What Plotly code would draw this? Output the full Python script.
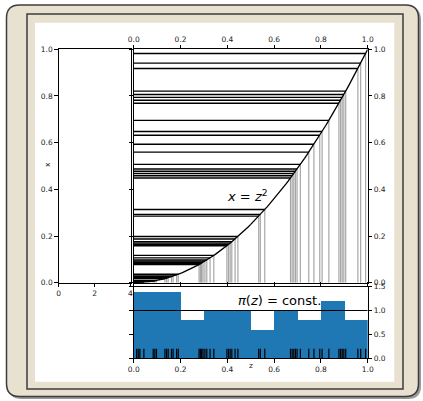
import plotly.graph_objects as go

# ---------------- data ----------------
z_samples = [0.012, 0.019, 0.026, 0.043, 0.083, 0.090, 0.097,
             0.133, 0.140, 0.147, 0.161, 0.168, 0.183, 0.190,
             0.279, 0.285, 0.290, 0.296,
             0.304, 0.312, 0.326, 0.342, 0.398,
             0.405, 0.412, 0.419, 0.433, 0.445,
             0.534, 0.541, 0.560,
             0.670, 0.677, 0.684, 0.691, 0.698,
             0.712, 0.748, 0.770, 0.795,
             0.805, 0.834, 0.877, 0.884, 0.891, 0.898,
             0.906, 0.958, 0.970, 0.991]
curve_z = [i / 100 for i in range(101)]
main_ticks = [0.0, 0.2, 0.4, 0.6, 0.8, 1.0]
left_x_ticks = [0, 2, 4]
hist_ticks = [0.0, 0.5, 1.0, 1.5]
bin_width = 0.1
rug_height = 0.2

W, H = 423, 401
def px(v): return v / W
def py(v): return 1 - v / H

FONT = "DejaVu Sans"
BEIGE = "#e9e1d0"
BORDER = "#3c3c3c"

fig = go.Figure()

# left panel placeholder (empty)
fig.add_trace(go.Scatter(x=[None], y=[None], xaxis="x", yaxis="y", mode="lines",
                         hoverinfo="skip"))

# vertical grey lines (z_i, 0) -> (z_i, z_i^2)
vx, vy = [], []
for z in z_samples:
    vx += [z, z, None]
    vy += [0, z * z, None]
fig.add_trace(go.Scatter(x=vx, y=vy, xaxis="x2", yaxis="y2", mode="lines",
                         line=dict(color="rgba(0,0,0,0.35)", width=1.2), hoverinfo="skip"))

# horizontal black lines (0, x_i) -> (z_i, x_i)
hx, hy = [], []
for z in z_samples:
    hx += [0, z, None]
    hy += [z * z, z * z, None]
fig.add_trace(go.Scatter(x=hx, y=hy, xaxis="x2", yaxis="y2", mode="lines",
                         line=dict(color="black", width=1.4), hoverinfo="skip"))

# curve x = z^2
fig.add_trace(go.Scatter(x=curve_z, y=[z * z for z in curve_z], xaxis="x2", yaxis="y2",
                         mode="lines", line=dict(color="black", width=1.3), hoverinfo="skip"))

# histogram
fig.add_trace(go.Histogram(x=z_samples, xaxis="x3", yaxis="y3", histnorm="probability density",
                           xbins=dict(start=0, end=1.0, size=bin_width),
                           marker=dict(color="#1f77b4", line=dict(width=0)),
                           hoverinfo="skip"))

# const line
fig.add_trace(go.Scatter(x=[0, 1], y=[1, 1], xaxis="x3", yaxis="y3", mode="lines",
                         line=dict(color="black", width=1.1), hoverinfo="skip"))

# rug
rx, ry = [], []
for z in z_samples:
    rx += [z, z, None]
    ry += [0, rug_height, None]
fig.add_trace(go.Scatter(x=rx, y=ry, xaxis="x3", yaxis="y3", mode="lines",
                         line=dict(color="black", width=1.2), hoverinfo="skip"))

# ---------- frame shapes ----------
def rrect(x0, y0, x1, y1, r):
    pts = [("M", [(x0 + r, y0)]), ("L", [(x1 - r, y0)]), ("Q", [(x1, y0), (x1, y0 + r)]),
           ("L", [(x1, y1 - r)]), ("Q", [(x1, y1), (x1 - r, y1)]),
           ("L", [(x0 + r, y1)]), ("Q", [(x0, y1), (x0, y1 - r)]),
           ("L", [(x0, y0 + r)]), ("Q", [(x0, y0), (x0 + r, y0)])]
    s = ""
    for cmd, ps in pts:
        s += cmd + " " + " ".join(f"{px(a):.5f},{py(b):.5f}" for a, b in ps) + " "
    return s + "Z"

shapes = [
    dict(type="path", xref="paper", yref="paper", path=rrect(8.5, 7, 421, 399, 13),
         fillcolor="#9a9a9a", line=dict(width=0), layer="below"),
    dict(type="path", xref="paper", yref="paper", path=rrect(6.5, 5, 418.5, 396.5, 13),
         fillcolor=BEIGE, line=dict(color=BORDER, width=1.5), layer="below"),
    dict(type="rect", xref="paper", yref="paper", x0=px(27), x1=px(403), y0=py(389), y1=py(14),
         fillcolor=BEIGE, line=dict(color=BORDER, width=1.5), layer="below"),
    dict(type="rect", xref="paper", yref="paper", x0=px(35), x1=px(394.3), y0=py(381.7), y1=py(22.7),
         fillcolor="white", line=dict(width=0), layer="below"),
]

axis_common = dict(showgrid=False, zeroline=False, showline=True, linecolor="black",
                   linewidth=0.9, ticks="outside", ticklen=3.5, tickwidth=0.8,
                   tickcolor="black", tickfont=dict(family=FONT, size=7.5, color="#222"),
                   automargin=False, fixedrange=True)

main_xdom = [px(133.8), px(367.7)]
main_ydom = [py(282.7), py(49.3)]
label_font = dict(family=FONT, size=7.5, color="#222")

fig.update_layout(
    width=W, height=H, margin=dict(l=0, r=0, t=0, b=0), autosize=False,
    paper_bgcolor="white", plot_bgcolor="rgba(0,0,0,0)", showlegend=False,
    bargap=0, shapes=shapes,
    xaxis=dict(domain=[px(58.7), px(130.5)], range=[0, 4], anchor="y",
               tickvals=left_x_ticks, mirror=True, **axis_common),
    yaxis=dict(domain=main_ydom, range=[0, 1], anchor="x", tickvals=main_ticks,
               ticktext=[f"{t:.1f}" for t in main_ticks], mirror=True, **axis_common),
    xaxis2=dict(domain=main_xdom, range=[0, 1], anchor="y2", side="top",
                tickvals=main_ticks, ticktext=[f"{t:.1f}" for t in main_ticks],
                mirror="ticks", **axis_common),
    yaxis2=dict(domain=main_ydom, range=[0, 1], anchor="x2", side="right",
                tickvals=main_ticks, ticktext=[f"{t:.1f}" for t in main_ticks],
                mirror="ticks", **axis_common),
    xaxis3=dict(domain=main_xdom, range=[0, 1], anchor="y3", side="bottom",
                tickvals=main_ticks, ticktext=[f"{t:.1f}" for t in main_ticks],
                mirror="ticks", **axis_common),
    yaxis3=dict(domain=[py(358.3), py(286.7)], range=[0, 1.5], anchor="x3", side="right",
                tickvals=hist_ticks, ticktext=[f"{t:.1f}" for t in hist_ticks],
                mirror="ticks", **axis_common),
    annotations=[
        dict(text="<i>x</i> = <i>z</i><sup>2</sup>", xref="x2", yref="y2", x=0.488, y=0.371,
             showarrow=False, font=dict(family=FONT, size=13, color="black")),
        dict(text="<i>π</i>(<i>z</i>) = const.", xref="x3", yref="y3", x=0.623, y=1.21,
             showarrow=False, font=dict(family=FONT, size=13, color="black")),
        dict(text="x", xref="paper", yref="paper", x=px(40.5), y=py(165), textangle=-90,
             showarrow=False, font=label_font),
        dict(text="z", xref="paper", yref="paper", x=px(251), y=py(372),
             showarrow=False, font=label_font),
    ],
)

fig.write_html("out.html", post_script="document.body.style.margin='0';",
               config={"displayModeBar": False})
